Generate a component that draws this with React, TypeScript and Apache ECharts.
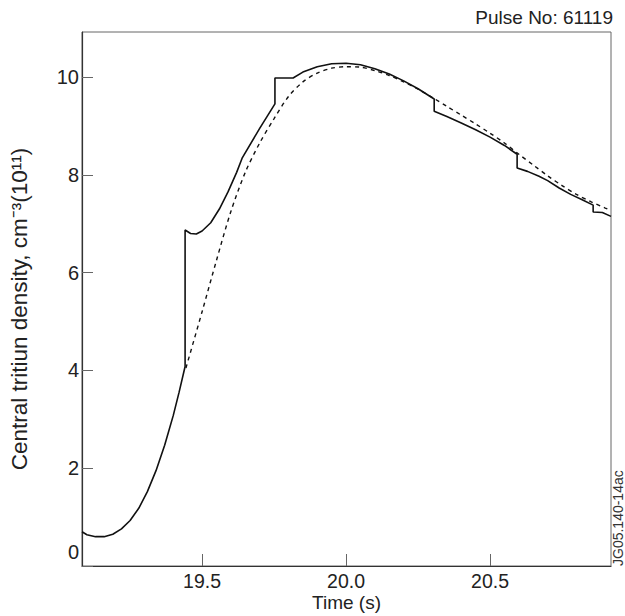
import React, { useEffect, useRef } from "react";
import * as echarts from "echarts";

const measuredTime = [
  19.083, 19.1, 19.13, 19.16, 19.19, 19.22, 19.25, 19.28, 19.31, 19.34, 19.37, 19.4, 19.42, 19.441,
  19.441, 19.46, 19.48, 19.5, 19.53, 19.56, 19.59, 19.62, 19.639, 19.7, 19.753,
  19.753, 19.816, 19.85, 19.9, 19.95, 20.0, 20.05, 20.1, 20.15, 20.2, 20.25, 20.306,
  20.306, 20.35, 20.4, 20.45, 20.5, 20.55, 20.594,
  20.594, 20.63, 20.67, 20.7, 20.74, 20.78, 20.82, 20.858,
  20.858, 20.89, 20.92,
];
const measuredDensity = [
  0.7, 0.64, 0.6, 0.6, 0.65, 0.76, 0.93, 1.18, 1.52, 1.95, 2.47, 3.08, 3.55, 4.08,
  6.87, 6.8, 6.79, 6.85, 7.02, 7.3, 7.65, 8.05, 8.34, 8.95, 9.45,
  9.98, 9.98, 10.1, 10.21, 10.27, 10.28, 10.25, 10.17, 10.06, 9.92, 9.76, 9.55,
  9.3, 9.19, 9.06, 8.92, 8.77, 8.6, 8.42,
  8.14, 8.07, 7.97, 7.88, 7.73, 7.6, 7.49, 7.38,
  7.24, 7.23, 7.15,
];

const fitTime = [
  19.444, 19.5, 19.55, 19.6, 19.65, 19.7, 19.75, 19.8, 19.85, 19.9, 19.95, 20.0, 20.05,
  20.1, 20.15, 20.2, 20.25, 20.3, 20.35, 20.4, 20.45, 20.5, 20.55, 20.6, 20.65, 20.7,
  20.75, 20.8, 20.85, 20.9, 20.92,
];
const fitDensity = [
  4.05, 5.2, 6.25, 7.25, 8.05, 8.65, 9.15, 9.6, 9.9, 10.08, 10.18, 10.21, 10.2,
  10.13, 10.03, 9.9, 9.75, 9.58, 9.4, 9.22, 9.04, 8.85, 8.65, 8.42, 8.2, 7.98,
  7.78, 7.6, 7.45, 7.32, 7.27,
];

const xTicks = [19.5, 20.0, 20.5];
const yTicks = [0, 2, 4, 6, 8, 10];

const FONT = "Liberation Sans, Arial, sans-serif";

export default function App() {
  const ref = useRef<HTMLDivElement>(null);
  useEffect(() => {
    if (!ref.current) return;
    const chart = echarts.init(ref.current, null, { renderer: "svg" });
    chart.setOption({
      animation: false,
      backgroundColor: "#fff",
      textStyle: { fontFamily: FONT },
      grid: {
        left: 82,
        right: 14,
        top: 32,
        bottom: 50,
        show: true,
        borderColor: "#666",
        borderWidth: 1,
        outerBoundsMode: "none",
        containLabel: false,
      },
      title: {
        text: "Pulse No: 61119",
        right: 12,
        top: 8,
        padding: 0,
        textStyle: { fontFamily: FONT, fontSize: 19, fontWeight: "normal", color: "#222" },
      },
      graphic: [
        {
          type: "text",
          x: 611,
          y: 566,
          rotation: Math.PI / 2,
          style: {
            text: "JG05.140-14ac",
            font: "14px " + FONT,
            fill: "#333",
            textAlign: "left",
            textVerticalAlign: "top",
          },
        },
      ],
      xAxis: {
        type: "value",
        min: 19.083,
        max: 20.92,
        name: "Time (s)",
        nameLocation: "middle",
        nameGap: 27,
        nameMoveOverlap: false,
        nameTextStyle: { fontFamily: FONT, fontSize: 19, color: "#222" },
        axisLine: { show: true, lineStyle: { color: "#333", width: 1.2 } },
        axisTick: {
          show: true,
          inside: true,
          length: 12,
          customValues: xTicks,
          lineStyle: { color: "#666" },
        },
        axisLabel: {
          customValues: xTicks,
          formatter: (v: number) => v.toFixed(1),
          fontFamily: FONT,
          fontSize: 19.5,
          color: "#222",
          margin: 5,
        },
        splitLine: { show: false },
      },
      yAxis: {
        type: "value",
        min: 0,
        max: 10.92,
        name: "Central tritiun density, cm\u207B\u00B3(10\u00B9\u00B9)",
        nameLocation: "middle",
        nameGap: 51,
        nameMoveOverlap: false,
        nameTextStyle: {
          fontFamily: FONT,
          fontSize: 22.5,
          color: "#222",
          padding: [0, 20, 0, 0],
        },
        axisLine: { show: true, lineStyle: { color: "#333", width: 1.2 } },
        axisTick: {
          show: true,
          inside: true,
          length: 11,
          customValues: yTicks,
          lineStyle: { color: "#666" },
        },
        axisLabel: {
          customValues: yTicks,
          formatter: (v: number) => (v === 0 ? "{z|0}" : String(v)),
          fontFamily: FONT,
          fontSize: 20,
          color: "#222",
          margin: 3,
          rich: {
            z: { fontFamily: FONT, fontSize: 20, color: "#222", padding: [0, 0, 28, 0] },
          },
        },
        splitLine: { show: false },
      },
      series: [
        {
          type: "line",
          data: measuredTime.map((t, i) => [t, measuredDensity[i]]),
          showSymbol: false,
          smooth: false,
          lineStyle: { color: "#111", width: 1.6 },
        },
        {
          type: "line",
          data: fitTime.map((t, i) => [t, fitDensity[i]]),
          showSymbol: false,
          smooth: 0.3,
          lineStyle: { color: "#111", width: 1.4, type: [4, 4] },
        },
      ],
    });
    return () => chart.dispose();
  }, []);
  return (
    <div
      ref={ref}
      style={{ position: "fixed", left: 0, top: 0, width: 625, height: 616 }}
    />
  );
}
